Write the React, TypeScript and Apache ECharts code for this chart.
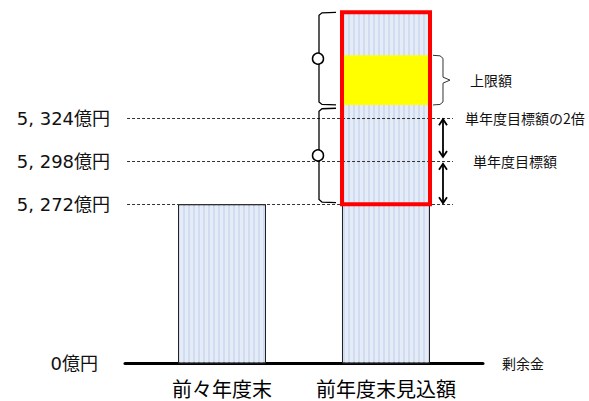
import React, { useEffect, useRef } from 'react';
import * as echarts from 'echarts';

// ---------- data ----------
const CATEGORIES = ['前々年度末', '前年度末見込額'];
const CATEGORY_POS = [1, 2];
const BAR_VALUES = [5272, 5388];
const SERIES_NAME = '剰余金';
// schematic (broken) axis: the bottom of the axis stands for 0億円
const AXIS_ZERO = 5176;
const AXIS_TOP = 5390;
const ZERO_LABEL = '0億円';
const LEVEL_VALUES = [5324, 5298, 5272];
const LEVEL_LABELS = ['5, 324億円', '5, 298億円', '5, 272億円'];
const TARGET_VALUES = [5324, 5298];
const TARGET_LABELS = ['単年度目標額の2倍', '単年度目標額'];
const UPPER_LIMIT_BAND = [5332, 5362];
const UPPER_LIMIT_LABEL = '上限額';
const FRAME_RANGE = [5272, 5388];
const LEFT_BRACES = [
  [5332, 5388],
  [5273, 5330],
];
const ARROWS = [
  [5300, 5324],
  [5272, 5297],
];

// ---------- layout ----------
const X_MIN = 0.4085;
const X_MAX = 2.5915;
const LINE_X0 = 0.421;
const LINE_X1 = 2.4085;
const BAR_W = 88;
const NUM_FONT = "'DejaVu Sans', 'Noto Sans CJK JP', sans-serif";
const CJK_FONT = "'Noto Sans CJK JP', sans-serif";
const HIDDEN = 'rgba(0,0,0,0)';

export default function App() {
  const ref = useRef<HTMLDivElement>(null);

  useEffect(() => {
    if (!ref.current) return;
    const chart = echarts.init(ref.current, null, { renderer: 'svg' });

    const barData = CATEGORY_POS.map((x, i) => [x, BAR_VALUES[i]]);
    const rightX = CATEGORY_POS[1];

    const levelLines: any[] = LEVEL_VALUES.map((v, i) => [
      { name: LEVEL_LABELS[i], coord: [LINE_X0, v] },
      { coord: [LINE_X1, v] },
    ]);
    levelLines.push([
      {
        name: ZERO_LABEL,
        coord: [LINE_X0, AXIS_ZERO],
        label: { distance: 29 },
        lineStyle: { color: HIDDEN },
      },
      { coord: [LINE_X1, AXIS_ZERO] },
    ]);

    const targetLines: any[] = TARGET_VALUES.map((v, i) => [
      { name: TARGET_LABELS[i], coord: [LINE_X0, v], label: { distance: i === 0 ? 12 : 20 } },
      { coord: [LINE_X1, v] },
    ]);

    const annotations: number[][] = [
      ...LEFT_BRACES.map(([a, b]) => [rightX, a, b, 0]),
      [rightX, UPPER_LIMIT_BAND[0], UPPER_LIMIT_BAND[1], 1],
      ...ARROWS.map(([a, b]) => [rightX, a, b, 2]),
    ];

    const option: any = {
      animation: false,
      grid: { left: 125, right: 106, top: 9, bottom: 38 },
      xAxis: {
        type: 'value',
        min: X_MIN,
        max: X_MAX,
        name: SERIES_NAME,
        nameLocation: 'end',
        nameGap: 19,
        nameTextStyle: { fontSize: 14, color: '#111', fontFamily: CJK_FONT },
        axisLine: { show: true, onZero: false, lineStyle: { color: '#000', width: 3 } },
        axisTick: { show: false },
        splitLine: { show: false },
        axisLabel: {
          customValues: CATEGORY_POS,
          formatter: (v: number) => CATEGORIES[CATEGORY_POS.indexOf(v)] ?? '',
          fontSize: 20,
          color: '#000',
          margin: 15,
          fontFamily: CJK_FONT,
        },
      },
      yAxis: {
        type: 'value',
        min: AXIS_ZERO,
        max: AXIS_TOP,
        axisLine: { show: false },
        axisTick: { show: false },
        axisLabel: { show: false },
        splitLine: { show: false },
      },
      series: [
        {
          name: SERIES_NAME,
          type: 'bar',
          data: barData,
          barWidth: BAR_W,
          z: 2,
          itemStyle: {
            color: '#d0dcf0',
            borderColor: '#222',
            borderWidth: 1,
            decal: {
              symbol: 'rect',
              symbolSize: 1,
              dashArrayX: [3, 2],
              dashArrayY: [1, 0],
              color: 'rgba(255,255,255,0.45)',
              rotation: 0,
            },
          },
          markLine: {
            silent: true,
            symbol: 'none',
            z: 3,
            lineStyle: { type: [3, 2], color: '#333', width: 1 },
            label: {
              show: true,
              position: 'start',
              distance: 17,
              formatter: '{b}',
              fontSize: 18,
              color: '#111',
              fontFamily: NUM_FONT,
            },
            emphasis: { disabled: true },
            data: levelLines,
          },
        },
        {
          name: 'upper',
          type: 'custom',
          coordinateSystem: 'cartesian2d',
          encode: { x: 0, y: [1, 2] },
          z: 4,
          silent: true,
          data: [[rightX, UPPER_LIMIT_BAND[0], UPPER_LIMIT_BAND[1]]],
          renderItem: (params: any, api: any) => {
            const pb = api.coord([api.value(0), api.value(1)]);
            const pt = api.coord([api.value(0), api.value(2)]);
            return {
              type: 'rect',
              shape: { x: pb[0] - BAR_W / 2, y: pt[1], width: BAR_W, height: pb[1] - pt[1] },
              style: { fill: '#ffff00' },
            };
          },
        },
        {
          name: 'frame',
          type: 'custom',
          coordinateSystem: 'cartesian2d',
          encode: { x: 0, y: [1, 2] },
          z: 5,
          silent: true,
          data: [[rightX, FRAME_RANGE[0], FRAME_RANGE[1]]],
          renderItem: (params: any, api: any) => {
            const pb = api.coord([api.value(0), api.value(1)]);
            const pt = api.coord([api.value(0), api.value(2)]);
            return {
              type: 'rect',
              shape: { x: pb[0] - BAR_W / 2, y: pt[1], width: BAR_W, height: pb[1] - pt[1] },
              style: { fill: 'none', stroke: '#ff0000', lineWidth: 4 },
            };
          },
          markLine: {
            silent: true,
            symbol: 'none',
            lineStyle: { color: HIDDEN, width: 1 },
            label: {
              show: true,
              position: 'end',
              formatter: '{b}',
              fontSize: 14,
              color: '#111',
              fontFamily: CJK_FONT,
            },
            emphasis: { disabled: true },
            data: targetLines,
          },
        },
        {
          name: 'annotations',
          type: 'custom',
          coordinateSystem: 'cartesian2d',
          encode: { x: 0, y: [1, 2] },
          z: 6,
          silent: true,
          data: annotations,
          renderItem: (params: any, api: any) => {
            const x = api.value(0);
            const kind = api.value(3);
            const pb = api.coord([x, api.value(1)]);
            const pt = api.coord([x, api.value(2)]);
            const cx = pb[0];
            const yb = pb[1];
            const yt = pt[1];
            const ym = (yb + yt) / 2;
            const L = cx - BAR_W / 2;
            const R = cx + BAR_W / 2;
            const line = { stroke: '#000', lineWidth: 1.3, fill: 'none' };
            if (kind === 0) {
              const xv = L - 23;
              const xh = L - 6;
              const xp = L - 28;
              return {
                type: 'group',
                children: [
                  {
                    type: 'polyline',
                    shape: {
                      points: [
                        [xh, yt],
                        [xv + 3, yt + 0.5],
                        [xv, yt + 3],
                        [xv, ym - 3],
                        [xp, ym],
                        [xv, ym + 3],
                        [xv, yb - 3],
                        [xv + 3, yb - 0.5],
                        [xh, yb],
                      ],
                    },
                    style: line,
                  },
                  {
                    type: 'circle',
                    shape: { cx: L - 24, cy: ym, r: 5.5 },
                    style: { fill: '#fff', stroke: '#000', lineWidth: 1.5 },
                  },
                ],
              };
            }
            if (kind === 1) {
              const xh = R + 3;
              const xv = R + 13;
              const xp = R + 20;
              return {
                type: 'group',
                children: [
                  {
                    type: 'polyline',
                    shape: {
                      points: [
                        [xh, yt],
                        [xv - 3, yt + 0.5],
                        [xv, yt + 3],
                        [xv, ym - 3],
                        [xp, ym],
                        [xv, ym + 3],
                        [xv, yb - 3],
                        [xv - 3, yb - 0.5],
                        [xh, yb],
                      ],
                    },
                    style: { stroke: '#333', lineWidth: 1, fill: 'none' },
                  },
                  {
                    type: 'text',
                    x: R + 40,
                    y: ym,
                    style: {
                      text: UPPER_LIMIT_LABEL,
                      fill: '#111',
                      fontSize: 14,
                      fontFamily: CJK_FONT,
                      align: 'left',
                      verticalAlign: 'middle',
                    },
                  },
                ],
              };
            }
            const ax = R + 13;
            const arrowStyle = { stroke: '#000', lineWidth: 1.8, fill: 'none' };
            return {
              type: 'group',
              children: [
                { type: 'line', shape: { x1: ax, y1: yt + 1, x2: ax, y2: yb - 1 }, style: arrowStyle },
                {
                  type: 'polyline',
                  shape: { points: [[ax - 4, yt + 7], [ax, yt + 1], [ax + 4, yt + 7]] },
                  style: arrowStyle,
                },
                {
                  type: 'polyline',
                  shape: { points: [[ax - 4, yb - 7], [ax, yb - 1], [ax + 4, yb - 7]] },
                  style: arrowStyle,
                },
              ],
            };
          },
        },
      ],
    };

    chart.setOption(option);
    return () => chart.dispose();
  }, []);

  return (
    <div
      ref={ref}
      style={{ position: 'absolute', left: 0, top: 0, width: 589, height: 401 }}
    />
  );
}
